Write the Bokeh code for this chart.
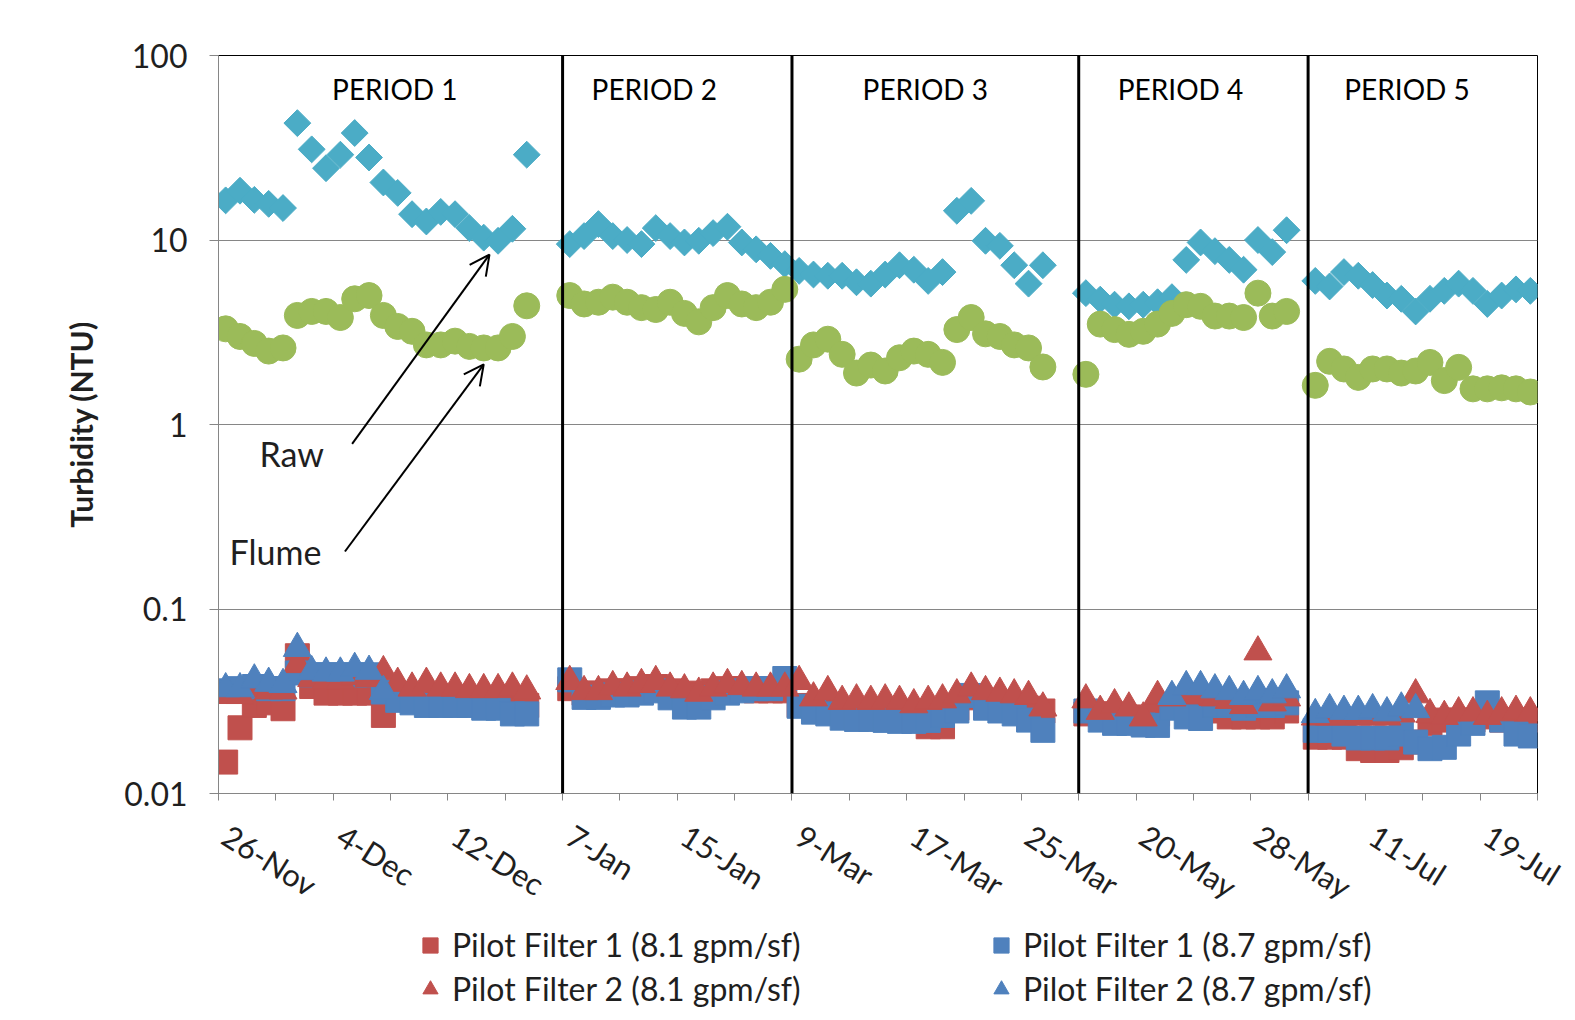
import math
import numpy as np
import pandas as pd
from bokeh.plotting import figure
from bokeh.layouts import column
from bokeh.models import (Range1d, FixedTicker, Span, Label, Arrow, OpenHead,
                          Legend, LegendItem, ColumnDataSource, LabelSet)
from bokeh.core.properties import value
from bokeh.embed import file_html
from bokeh.resources import INLINE

nan = float("nan")

# ---------------- categories ----------------
period_names = ["PERIOD 1", "PERIOD 2", "PERIOD 3", "PERIOD 4", "PERIOD 5"]
period_starts = ["2008-11-26", "2009-01-07", "2009-03-09", "2009-05-16", "2009-07-07"]
period_days = [24, 16, 20, 16, 16]

dates = []
for s, n in zip(period_starts, period_days):
    for d in pd.date_range(s, periods=n, freq="D"):
        dates.append(f"{d.day}-{d.strftime('%b')}")

# ---------------- series (NTU) ----------------
raw = ([16.4, 18.5, 16.5, 15.7, 14.9, 43, 31, 24.5, 29, 38, 28, 20.5, 18, 13.8, 12.6, 14.2,
        13.8, 11.6, 10.3, 9.9, 11.5, 29, nan, nan]
       + [9.5, 10.5, 12.2, 10.5, 10.0, 9.5, 11.6, 10.5, 9.7, 9.9, 10.9, 11.8, 9.7, 8.9, 8.2, 7.4]
       + [6.8, 6.5, 6.4, 6.4, 5.9, 5.8, 6.5, 7.3, 6.9, 6.0, 6.7, 14.4, 16.3, 9.9, 9.3, 7.3,
          5.8, 7.3, nan, nan]
       + [5.15, 4.75, 4.46, 4.37, 4.46, 4.6, 4.9, 7.8, 9.7, 8.7, 7.8, 6.9, 10.0, 8.6, 11.3, nan]
       + [6.0, 5.6, 6.7, 6.4, 5.7, 5.0, 4.8, 4.1, 4.8, 5.3, 5.8, 5.3, 4.5, 5.0, 5.4, 5.3])

flume = ([3.3, 3.0, 2.75, 2.5, 2.6, 3.9, 4.1, 4.1, 3.8, 4.8, 5.0, 3.9, 3.4, 3.2, 2.7, 2.7,
          2.83, 2.65, 2.6, 2.6, 3.0, 4.4, nan, nan]
         + [5.0, 4.5, 4.6, 4.9, 4.6, 4.3, 4.2, 4.6, 4.0, 3.6, 4.3, 5.0, 4.5, 4.3, 4.6, 5.4]
         + [2.26, 2.7, 2.9, 2.4, 1.9, 2.1, 1.95, 2.3, 2.5, 2.4, 2.17, 3.27, 3.8, 3.1, 3.0, 2.7,
            2.6, 2.05, nan, nan]
         + [1.87, 3.5, 3.27, 3.08, 3.2, 3.5, 4.0, 4.46, 4.37, 3.87, 3.87, 3.8, 5.15, 3.87, 4.1, nan]
         + [1.63, 2.2, 2.0, 1.8, 2.0, 2.0, 1.9, 1.95, 2.17, 1.73, 2.04, 1.56, 1.56, 1.58, 1.56, 1.5])

pf1_81 = ([0.0148, 0.0227, 0.030, 0.031, 0.0288, 0.0558, 0.038, 0.035, 0.035, 0.035, 0.035, 0.0265,
           0.033, 0.032, 0.032, 0.032, 0.032, 0.031, 0.031, 0.031, 0.030, 0.030, nan, nan]
          + [0.037, 0.035, 0.035, 0.036, 0.036, 0.037, 0.038, 0.036, 0.035, 0.034, 0.036, 0.037,
             0.037, 0.036, 0.036, 0.036]
          + [0.030, 0.030, 0.029, 0.028, 0.028, 0.028, 0.028, 0.027, 0.026, 0.023, 0.023, 0.029,
             0.033, 0.032, 0.031, 0.030, 0.029, 0.028, nan, nan]
          + [0.027, 0.027, 0.027, 0.026, 0.025, 0.027, 0.030, 0.030, 0.029, 0.028, 0.026, 0.026,
             0.026, 0.026, 0.028, nan]
          + [0.0202, 0.0202, 0.0202, 0.0175, 0.0171, 0.0171, 0.0177, 0.019, 0.024, 0.025, 0.025,
             0.025, 0.026, 0.025, 0.025, 0.025])

pf1_87 = ([0.036, 0.037, 0.038, 0.037, 0.037, 0.045, 0.044, 0.044, 0.044, 0.044, 0.044, 0.0355,
           0.032, 0.031, 0.030, 0.030, 0.030, 0.030, 0.029, 0.029, 0.027, 0.027, nan, nan]
          + [0.0413, 0.0332, 0.0332, 0.0342, 0.0342, 0.035, 0.036, 0.033, 0.0294, 0.0294, 0.033,
             0.035, 0.036, 0.037, 0.037, 0.042]
          + [0.0297, 0.0276, 0.027, 0.0256, 0.0252, 0.0252, 0.0249, 0.0246, 0.0246, 0.0249, 0.0265,
             0.028, 0.034, 0.029, 0.028, 0.027, 0.025, 0.022, nan, nan]
          + [0.028, 0.025, 0.024, 0.024, 0.0235, 0.0234, 0.029, 0.026, 0.0255, 0.030, 0.030, 0.029,
             0.030, 0.030, 0.031, nan]
          + [0.022, 0.022, 0.021, 0.020, 0.020, 0.020, 0.021, 0.019, 0.0175, 0.0178, 0.021, 0.024,
             0.031, 0.025, 0.021, 0.0205])

pf2_81 = ([0.034, 0.034, 0.037, 0.036, 0.036, 0.050, 0.042, 0.041, 0.041, 0.043, 0.042, 0.0458,
           0.0396, 0.0373, 0.0396, 0.0373, 0.0373, 0.0366, 0.0366, 0.0366, 0.0373, 0.036, nan, nan]
          + [0.0405, 0.0357, 0.0357, 0.038, 0.0373, 0.039, 0.0405, 0.0373, 0.0365, 0.035, 0.0373,
             0.039, 0.038, 0.0373, 0.0373, 0.0373]
          + [0.0405, 0.033, 0.0357, 0.0316, 0.0322, 0.0316, 0.0322, 0.0316, 0.0303, 0.0316, 0.0322,
             0.0343, 0.0373, 0.0357, 0.035, 0.0343, 0.0336, 0.0291, nan, nan]
          + [0.0322, 0.0279, 0.0303, 0.0291, 0.0257, 0.0336, 0.033, 0.034, 0.034, 0.033, 0.032,
             0.030, 0.0586, 0.031, 0.033, nan]
          + [0.026, 0.026, 0.026, 0.026, 0.026, 0.026, 0.027, 0.0343, 0.0268, 0.0262, 0.0274,
             0.0274, 0.0262, 0.0274, 0.0279, 0.0274])

pf2_87 = ([0.037, 0.037, 0.0413, 0.0396, 0.039, 0.0612, 0.0458, 0.045, 0.045, 0.0477, 0.046, 0.0358]
          + [nan] * 12
          + [nan] * 16
          + [nan] * 20
          + [nan] * 6 + [0.0336, 0.038, 0.038, 0.0365, 0.0357, 0.0336, 0.0357, 0.0343, 0.0365, nan]
          + [0.0268, 0.0285, 0.0279, 0.0279, 0.0285, 0.0274, 0.0291, 0.0285] + [nan] * 8)

y_ticks = [0.01, 0.1, 1, 10, 100]
y_tick_labels = ["0.01", "0.1", "1", "10", "100"]
legend_labels = ["Pilot Filter 1 (8.1 gpm/sf)", "Pilot Filter 1 (8.7 gpm/sf)",
                 "Pilot Filter 2 (8.1 gpm/sf)", "Pilot Filter 2 (8.7 gpm/sf)"]

# ---------------- styling ----------------
FONT = "Lato"
TXT = "#1f1f1f"
GRID = "#868686"
C_RAW, C_FLUME, C_RED, C_BLUE = "#4BACC6", "#9BBB59", "#C0504D", "#4F81BD"
W = 1567
H_CHART = 924
H_LEG = 88

n = len(dates)
xs = np.arange(n) + 0.5
src = ColumnDataSource(dict(x=xs, raw=raw, flume=flume, pf1_81=pf1_81, pf1_87=pf1_87,
                            pf2_81=pf2_81, pf2_87=pf2_87))

p = figure(width=W, height=H_CHART, y_axis_type="log",
           x_range=Range1d(0, n), y_range=Range1d(0.01, 100),
           output_backend="svg", toolbar_location=None,
           min_border_left=218, min_border_right=30, min_border_top=55,
           min_border_bottom=H_CHART - 55 - 745)
p.background_fill_color = "white"
p.border_fill_color = "white"
p.outline_line_color = "black"
p.outline_line_width = 1

# y axis
yt = FixedTicker(ticks=y_ticks)
p.yaxis.ticker = yt
p.yaxis.major_label_overrides = {t: l for t, l in zip(y_ticks, y_tick_labels)}
p.yaxis.axis_label = "Turbidity (NTU)"
p.yaxis.axis_label_text_font = FONT
p.yaxis.axis_label_text_font_style = "bold"
p.yaxis.axis_label_text_font_size = "30px"
p.yaxis.axis_label_text_color = TXT
p.yaxis.axis_label_standoff = 22
p.yaxis.major_label_text_font = FONT
p.yaxis.major_label_text_font_size = "32px"
p.yaxis.major_label_text_color = TXT
p.yaxis.major_label_standoff = 22
p.yaxis.major_tick_out = 9
p.yaxis.major_tick_in = 0
p.yaxis.minor_tick_line_color = None
p.yaxis.axis_line_color = GRID
p.yaxis.major_tick_line_color = GRID
p.ygrid.ticker = yt
p.ygrid.grid_line_color = GRID
p.ygrid.grid_line_width = 1
p.xgrid.grid_line_color = None

# x axis: labels every 8 categories, tick marks every 4
label_pos = [i + 0.5 for i in range(0, n, 8)]
tick_pos = list(range(0, n + 1, 4))
xt = FixedTicker(ticks=label_pos, minor_ticks=tick_pos)
p.xaxis.ticker = xt
p.xaxis.major_label_overrides = {i + 0.5: dates[i] for i in range(0, n, 8)}
p.xaxis.major_label_orientation = -0.56
p.xaxis.major_label_text_font = FONT
p.xaxis.major_label_text_font_size = "31px"
p.xaxis.major_label_text_color = TXT
p.xaxis.major_label_standoff = 32
p.xaxis.major_tick_out = 0
p.xaxis.major_tick_in = 0
p.xaxis.minor_tick_out = 7
p.xaxis.minor_tick_in = 0
p.xaxis.minor_tick_line_color = GRID
p.xaxis.axis_line_color = GRID

# period dividers
bounds = np.cumsum(period_days)[:-1]
for b in bounds:
    p.add_layout(Span(location=float(b), dimension="height", line_color="black", line_width=3))

# series
p.scatter("x", "raw", source=src, marker="square", angle=math.pi / 4, size=19,
          fill_color=C_RAW, line_color=C_RAW)
p.scatter("x", "flume", source=src, marker="circle", size=26,
          fill_color=C_FLUME, line_color=C_FLUME)
p.scatter("x", "pf1_81", source=src, marker="square", size=24,
          fill_color=C_RED, line_color=C_RED)
p.scatter("x", "pf1_87", source=src, marker="square", size=24,
          fill_color=C_BLUE, line_color=C_BLUE)
p.scatter("x", "pf2_81", source=src, marker="triangle", size=28,
          fill_color=C_RED, line_color=C_RED)
p.scatter("x", "pf2_87", source=src, marker="triangle", size=28,
          fill_color=C_BLUE, line_color=C_BLUE)

# period titles
starts = np.concatenate([[0], bounds])
mids = starts + np.array(period_days) / 2.0
shift = [0.3, -1.6, -0.7, -0.9, -1.1]
plab = ColumnDataSource(dict(x=mids + np.array(shift), y=[66] * 5, t=period_names))
p.add_layout(LabelSet(x="x", y="y", text="t", source=plab, text_align="center",
                      text_baseline="middle", text_font=value(FONT), text_font_size="28px",
                      text_color="black"))

# Raw / Flume annotations
p.add_layout(Label(x=2.86, y=0.695, text="Raw", text_font=FONT, text_font_size="34px",
                   text_color=TXT, text_baseline="middle", text_align="left"))
p.add_layout(Label(x=0.77, y=0.205, text="Flume", text_font=FONT, text_font_size="34px",
                   text_color=TXT, text_baseline="middle", text_align="left"))
p.add_layout(Arrow(end=OpenHead(size=20, line_width=2, line_color="black"),
                   x_start=9.32, y_start=0.785, x_end=18.9, y_end=8.34,
                   line_width=2, line_color="black"))
p.add_layout(Arrow(end=OpenHead(size=20, line_width=2, line_color="black"),
                   x_start=8.82, y_start=0.205, x_end=18.5, y_end=2.12,
                   line_width=2, line_color="black"))

# ---------------- legend strip (its frame is aligned with the chart frame) ----------------
pl = figure(width=W, height=H_LEG, x_range=Range1d(0, 1), y_range=Range1d(0, 1),
            x_axis_type=None, y_axis_type=None, output_backend="svg", toolbar_location=None,
            min_border=0)
pl.outline_line_color = None
pl.background_fill_color = "white"
pl.border_fill_color = "white"
pl.grid.grid_line_color = None
off = dict(x=[-5.0], y=[-5.0])   # legend-only glyphs, outside the strip's range
g1 = pl.scatter(marker="square", fill_color=C_RED, line_color=C_RED, source=ColumnDataSource(off))
g2 = pl.scatter(marker="square", fill_color=C_BLUE, line_color=C_BLUE, source=ColumnDataSource(off))
g3 = pl.scatter(marker="triangle", fill_color=C_RED, line_color=C_RED, source=ColumnDataSource(off))
g4 = pl.scatter(marker="triangle", fill_color=C_BLUE, line_color=C_BLUE, source=ColumnDataSource(off))
items = [LegendItem(label=legend_labels[0], renderers=[g1]),
         LegendItem(label=legend_labels[1], renderers=[g2]),
         LegendItem(label=legend_labels[2], renderers=[g3]),
         LegendItem(label=legend_labels[3], renderers=[g4])]
legend = Legend(items=items, location=(190, 4), orientation="horizontal", ncols=2,
                glyph_width=44, glyph_height=38, label_standoff=0, label_width=522,
                spacing=5, padding=0, margin=0,
                label_text_font=FONT, label_text_font_size="32px", label_text_color=TXT,
                background_fill_alpha=0, border_line_color=None)
pl.add_layout(legend, "center")

layout = column(p, pl, spacing=0)
open("out.html", "w").write(file_html(layout, INLINE))
